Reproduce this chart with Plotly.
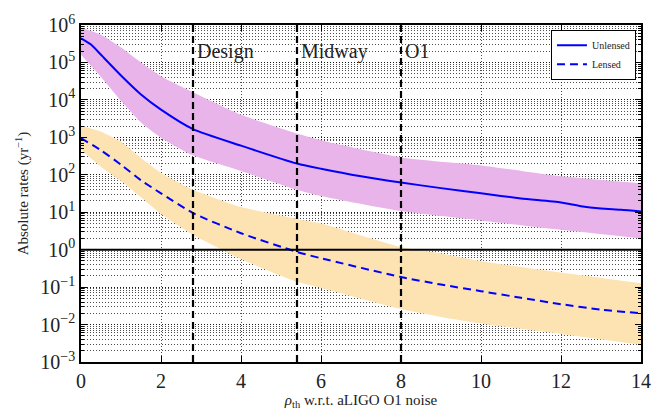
import plotly.graph_objects as go

# ---------------- data ----------------
x_unl = [0, 0.25, 0.5, 1, 1.5, 2, 2.8, 4, 5.4, 6, 7, 8, 9, 10, 11, 12, 12.5, 13, 13.5, 14]
y_unl = [4.4e5, 3.0e5, 1.6e5, 4.5e4, 1.4e4, 5500, 1660, 600, 200, 145, 91, 62, 44, 32, 23.4, 18.2, 14.5, 12.6, 11.7, 10.5]

x_unl_band = [0, 0.5, 1, 1.5, 2, 2.8, 4, 5.4, 6, 8, 10, 12, 14]
unl_upper = [8.5e5, 5.5e5, 2.5e5, 1.0e5, 4.3e4, 1.6e4, 4000, 1260, 830, 290, 178, 91, 59]
unl_lower = [1.6e5, 4.1e4, 9500, 2500, 980, 330, 126, 40, 27, 10.7, 6.0, 3.4, 2.0]

x_len = [0, 0.5, 1, 1.5, 2, 2.8, 4, 5.4, 6, 8, 9, 10, 11, 12, 13, 14]
y_len = [950, 450, 186, 71, 32, 9.5, 2.75, 0.87, 0.59, 0.186, 0.117, 0.078, 0.052, 0.035, 0.025, 0.020]

x_len_band = [0, 0.5, 1, 1.5, 2, 2.8, 4, 5.4, 6, 8, 9, 10, 12, 14]
len_upper = [2040, 1410, 760, 280, 112, 40, 13.8, 6.6, 5.0, 1.17, 0.79, 0.49, 0.245, 0.126]
len_lower = [470, 162, 68, 25, 8.9, 2.5, 0.56, 0.138, 0.095, 0.026, 0.016, 0.0107, 0.0056, 0.0029]

vline_x = [2.8, 5.4, 8.0]
vline_labels = ["Design", "Midway", "O1"]
hline_y = 1.0

y_tickvals = [1e-3, 1e-2, 1e-1, 1e0, 1e1, 1e2, 1e3, 1e4, 1e5, 1e6]
y_ticktext = ["10<sup>−3</sup>", "10<sup>−2</sup>", "10<sup>−1</sup>", "10<sup>0</sup>",
              "10<sup>1</sup>", "10<sup>2</sup>", "10<sup>3</sup>", "10<sup>4</sup>",
              "10<sup>5</sup>", "10<sup>6</sup>"]

FONT = "Liberation Serif"
TXT = "#222"

fig = go.Figure()

# bands
fig.add_trace(go.Scatter(x=x_unl_band, y=unl_upper, mode="lines",
                         line=dict(width=0, shape="spline", smoothing=0.6),
                         showlegend=False, hoverinfo="skip"))
fig.add_trace(go.Scatter(x=x_unl_band, y=unl_lower, mode="lines",
                         line=dict(width=0, shape="spline", smoothing=0.6),
                         fill="tonexty", fillcolor="rgb(233,180,233)",
                         showlegend=False, hoverinfo="skip"))
fig.add_trace(go.Scatter(x=x_len_band, y=len_upper, mode="lines",
                         line=dict(width=0, shape="spline", smoothing=0.6),
                         showlegend=False, hoverinfo="skip"))
fig.add_trace(go.Scatter(x=x_len_band, y=len_lower, mode="lines",
                         line=dict(width=0, shape="spline", smoothing=0.6),
                         fill="tonexty", fillcolor="rgb(253,226,178)",
                         showlegend=False, hoverinfo="skip"))

# reference lines
for xv in vline_x:
    fig.add_vline(x=xv, line=dict(color="black", width=2.2, dash="7px,4px"))
fig.add_hline(y=hline_y, line=dict(color="black", width=2))

# curves
fig.add_trace(go.Scatter(x=x_unl, y=y_unl, mode="lines", name="Unlensed",
                         line=dict(color="blue", width=2, shape="spline", smoothing=0.6)))
fig.add_trace(go.Scatter(x=x_len, y=y_len, mode="lines", name="Lensed",
                         line=dict(color="blue", width=2, dash="8px,5px", shape="spline", smoothing=0.6)))

for xv, lab in zip(vline_x, vline_labels):
    fig.add_annotation(x=xv, y=0.922, xref="x", yref="paper", text=lab, showarrow=False,
                       xanchor="left", yanchor="middle", xshift=2,
                       font=dict(family=FONT, size=20, color=TXT))

GRIDC = "rgba(0,0,0,0.7)"
grid = dict(gridcolor=GRIDC, gridwidth=1, griddash="1px,2px")

fig.update_xaxes(range=[0, 14], dtick=2, tick0=0, showgrid=True, **grid,
                 ticks="inside", ticklen=6, tickcolor="black", mirror="allticks",
                 showline=True, linecolor="black", linewidth=1.5, zeroline=False,
                 tickfont=dict(family=FONT, size=20, color=TXT),
                 title=dict(text="<i>ρ</i><sub>th</sub> w.r.t. aLIGO O1 noise",
                            font=dict(family=FONT, size=15, color=TXT), standoff=2))
fig.update_yaxes(type="log", range=[-3, 6], tickmode="array",
                 tickvals=y_tickvals, ticktext=y_ticktext,
                 showgrid=True, **grid,
                 minor=dict(dtick="D1", showgrid=True, gridcolor=GRIDC,
                            gridwidth=1, griddash="1px,2px", ticks="inside", ticklen=3,
                            tickcolor="black"),
                 ticks="inside", ticklen=6, tickcolor="black", mirror="allticks",
                 showline=True, linecolor="black", linewidth=1.5, zeroline=False,
                 tickfont=dict(family=FONT, size=20, color=TXT),
                 title=dict(text="Absolute rates (yr<sup>−1</sup>)",
                            font=dict(family=FONT, size=15, color=TXT), standoff=8))

fig.update_layout(
    width=665, height=416,
    margin=dict(l=81, r=24, t=17, b=43),
    paper_bgcolor="white", plot_bgcolor="white",
    legend=dict(x=0.991, y=0.986, xanchor="right", yanchor="top",
                bordercolor="black", borderwidth=1, bgcolor="white",
                font=dict(family=FONT, size=10, color=TXT),
                traceorder="normal", tracegroupgap=0, itemwidth=30),
    showlegend=True,
)

fig.write_html("out.html")
